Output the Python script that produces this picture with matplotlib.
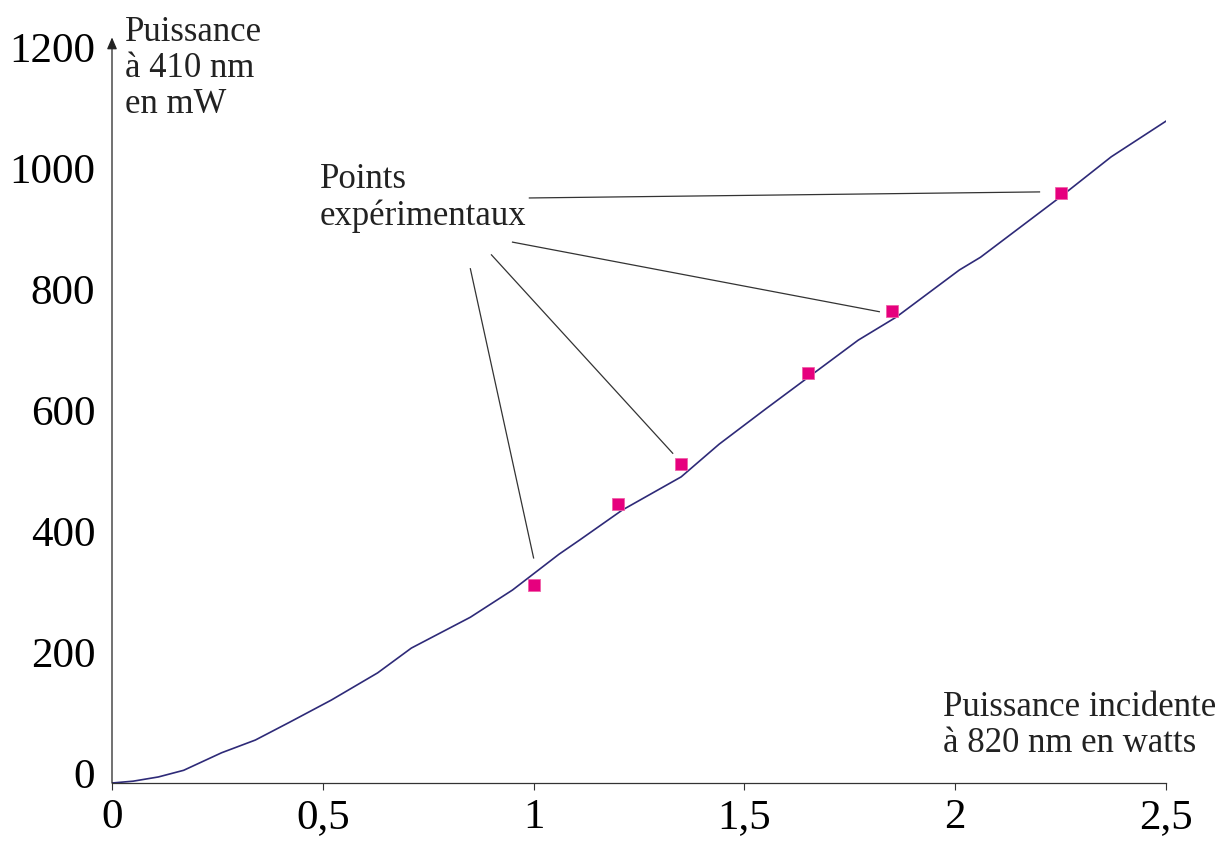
import matplotlib
matplotlib.use("Agg")
import matplotlib.pyplot as plt
from matplotlib.transforms import ScaledTranslation

plt.rcParams['font.family'] = ['Liberation Serif', 'DejaVu Serif']

# courbe theorique (puissance incidente en W, puissance a 410 nm en mW)
curve_x = [0, 0.05, 0.11, 0.17, 0.26, 0.34, 0.42, 0.52, 0.63, 0.71, 0.85, 0.95,
           1.06, 1.11, 1.21, 1.35, 1.44, 1.55, 1.77, 1.86, 2.01, 2.06, 2.25, 2.37, 2.5]
curve_y = [0, 3, 10, 21, 50, 71, 100, 137, 182, 223, 274, 319,
           378, 402, 451, 506, 560, 618, 732, 770, 848, 869, 969, 1035, 1094]

# points experimentaux
pts_x = [1.0, 1.2, 1.35, 1.65, 1.85, 2.25]
pts_y = [327, 461, 527, 678, 780, 975]

# traits de rappel vers les points
callout_start = [(0.99, 967), (0.95, 894), (0.90, 873), (0.85, 850)]
callout_end = [(2.20, 977), (1.82, 779), (1.33, 545), (1.00, 372)]

xticks = [0, 0.5, 1, 1.5, 2, 2.5]
xtick_labels = ['0', '0,5', '1', '1,5', '2', '2,5']
yticks = [0, 200, 400, 600, 800, 1000, 1200]
ytick_labels = ['0', '200', '400', '600', '800', '1000', '1200']

W, H = 1226, 843
fig = plt.figure(figsize=(W / 100, H / 100), dpi=100)
ax = fig.add_axes([112 / W, 1 - 783 / H, (1166 - 112) / W, (783 - 57) / H])

ax.plot(curve_x, curve_y, color='#2e2a78', lw=1.2, solid_joinstyle='round')
ax.plot(pts_x, pts_y, ls='none', marker='s', ms=8.5, color='#e6007e', mec='#f060a8', mew=0.6)

for (x0, y0), (x1, y1) in zip(callout_start, callout_end):
    ax.plot([x0, x1], [y0, y1], color='#333333', lw=0.9)

ax.set_xlim(0, 2.5)
ax.set_ylim(0, 1200)

for s in ['top', 'right', 'left']:
    ax.spines[s].set_visible(False)
ax.spines['bottom'].set_linewidth(0.9)
ax.spines['bottom'].set_color('#333333')

# axe vertical avec fleche
ax.annotate('', xy=(0, 1.027), xytext=(0, 0), xycoords='axes fraction',
            arrowprops=dict(arrowstyle='-|>,head_length=0.7,head_width=0.3',
                            color='#222222', lw=0.9, shrinkA=0, shrinkB=0),
            annotation_clip=False)

ax.set_xticks(xticks)
ax.set_xticklabels(xtick_labels)
ax.set_yticks(yticks)
ax.set_yticklabels(ytick_labels)
ax.tick_params(axis='x', direction='out', length=5, width=0.8, color='#333333',
               labelsize=31, pad=6)
ax.tick_params(axis='y', length=0, labelsize=31, pad=12)
for lab in ax.get_yticklabels():
    lab.set_transform(lab.get_transform() + ScaledTranslation(0, 10 / 100, fig.dpi_scale_trans))

# baseline = ligne du bas pour un texte sur plusieurs lignes
fig.text(125 / W, 1 - 113 / H, 'Puissance\nà 410 nm\nen mW', fontsize=25,
         ha='left', va='baseline', linespacing=1.12, color='#222222')
fig.text(320 / W, 1 - 225 / H, 'Points\nexpérimentaux', fontsize=25,
         ha='left', va='baseline', linespacing=1.12, color='#222222')
fig.text(943 / W, 1 - 752 / H, 'Puissance incidente\nà 820 nm en watts', fontsize=25,
         ha='left', va='baseline', linespacing=1.12, color='#222222')

fig.savefig('out.png', dpi=100)
